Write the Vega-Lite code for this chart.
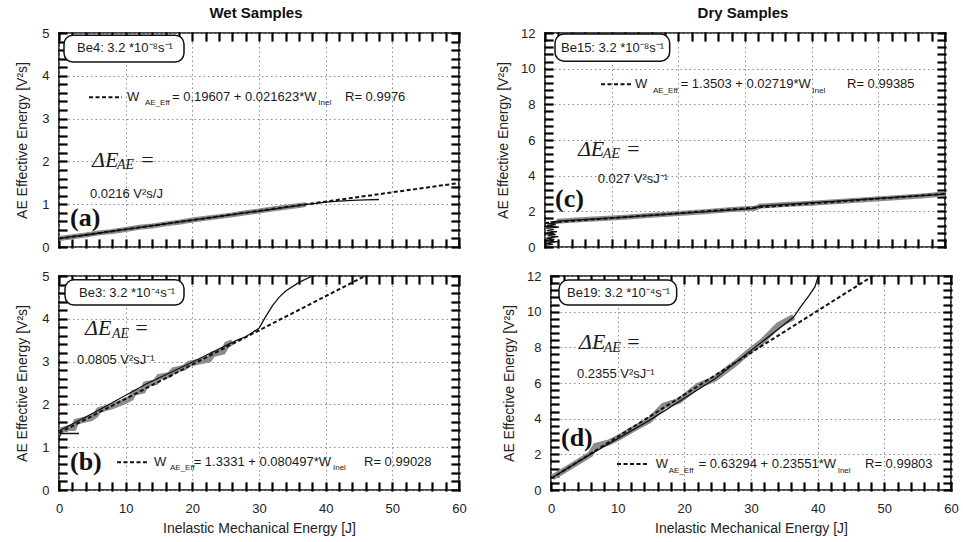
{
"$schema": "https://vega.github.io/schema/vega-lite/v6.json",
"padding": {"left": 14, "top": 5, "right": 4, "bottom": 4},
"background": "white",
"config": {
  "font": "Liberation Sans",
  "view": {"stroke": "#111", "strokeWidth": 1.6},
  "axis": {"labelFont": "Liberation Sans", "labelFontSize": 13, "labelColor": "#222", "titleFont": "Liberation Sans", "titleFontSize": 14, "titleFontWeight": "normal", "titleColor": "#222", "domain": false, "ticks": true, "tickColor": "black", "tickOpacity": 1, "tickWidth": 2.2, "tickSize": -7, "tickCap": "square", "tickRound": true, "gridColor": "#8f8f8f", "gridDash": [1.5, 3], "gridWidth": 1, "labelFlush": false, "labelOverlap": false, "zindex": 2},
  "title": {"font": "Liberation Sans", "fontSize": 15, "fontWeight": "bold", "color": "#111"}
},
"datasets": {
  "boxes": [
    {"p":"a","x":0.75,"x2":18.75,"y":4.32,"y2":4.95},
    {"p":"b","x":0.9,"x2":18.75,"y":4.32,"y2":4.91},
    {"p":"c","x":1.5,"x2":18.7,"y":10.42,"y2":11.94},
    {"p":"d","x":1.2,"x2":18.85,"y":10.37,"y2":11.77}
  ],
  "ann": [
    {"p":"a","k":"box","x":2.7,"y":4.64,"t":"Be4: 3.2 *10⁻⁸s⁻¹"},
    {"p":"a","k":"eq","x":10.2,"y":3.5,"t":"W"},
    {"p":"a","k":"sub","x":12.9,"y":3.36,"t":"AE_Eff"},
    {"p":"a","k":"eq","x":16.95,"y":3.5,"t":"= 0.19607 + 0.021623*W"},
    {"p":"a","k":"sub","x":38.9,"y":3.36,"t":"Inel"},
    {"p":"a","k":"eq","x":42.9,"y":3.5,"t":"R= 0.9976"},
    {"p":"a","k":"lab","x":4.65,"y":1.24,"t":"0.0216 V²s/J"},
    {"p":"a","k":"delta","x":4.95,"y":2.03,"t":"ΔE"},
    {"p":"a","k":"dsub","x":8.7,"y":1.92,"t":"AE"},
    {"p":"a","k":"delta","x":12.15,"y":2.03,"t":"="},
    {"p":"a","k":"let","x":1.65,"y":0.68,"t":"(a)"},

    {"p":"b","k":"box","x":3.0,"y":4.6,"t":"Be3: 3.2 *10⁻⁴s⁻¹"},
    {"p":"b","k":"delta","x":3.9,"y":3.78,"t":"ΔE"},
    {"p":"b","k":"dsub","x":7.95,"y":3.65,"t":"AE"},
    {"p":"b","k":"delta","x":11.25,"y":3.78,"t":"="},
    {"p":"b","k":"lab","x":2.7,"y":3.04,"t":"0.0805 V²sJ⁻¹"},
    {"p":"b","k":"let","x":1.65,"y":0.65,"t":"(b)"},
    {"p":"b","k":"eq","x":14.25,"y":0.65,"t":"W"},
    {"p":"b","k":"sub","x":16.65,"y":0.51,"t":"AE_Eff"},
    {"p":"b","k":"eq","x":20.2,"y":0.65,"t":"= 1.3331 + 0.080497*W"},
    {"p":"b","k":"sub","x":41.1,"y":0.51,"t":"Inel"},
    {"p":"b","k":"eq","x":45.75,"y":0.65,"t":"R= 0.99028"},

    {"p":"c","k":"box","x":2.4,"y":11.18,"t":"Be15: 3.2 *10⁻⁸s⁻¹"},
    {"p":"c","k":"eq","x":13.5,"y":9.13,"t":"W"},
    {"p":"c","k":"sub","x":16.2,"y":8.73,"t":"AE_Eff"},
    {"p":"c","k":"eq","x":20.35,"y":9.13,"t":"= 1.3503 + 0.02719*W"},
    {"p":"c","k":"sub","x":40.1,"y":8.73,"t":"Inel"},
    {"p":"c","k":"eq","x":45.3,"y":9.13,"t":"R= 0.99385"},
    {"p":"c","k":"lab","x":7.9,"y":3.83,"t":"0.027 V²sJ⁻¹"},
    {"p":"c","k":"delta","x":4.94,"y":5.52,"t":"ΔE"},
    {"p":"c","k":"dsub","x":8.68,"y":5.24,"t":"AE"},
    {"p":"c","k":"delta","x":12.1,"y":5.52,"t":"="},
    {"p":"c","k":"let","x":1.5,"y":2.7,"t":"(c)"},

    {"p":"d","k":"box","x":2.4,"y":11.07,"t":"Be19: 3.2 *10⁻⁴s⁻¹"},
    {"p":"d","k":"delta","x":4.2,"y":8.28,"t":"ΔE"},
    {"p":"d","k":"dsub","x":7.9,"y":7.95,"t":"AE"},
    {"p":"d","k":"delta","x":11.2,"y":8.28,"t":"="},
    {"p":"d","k":"lab","x":3.9,"y":6.53,"t":"0.2355 V²sJ⁻¹"},
    {"p":"d","k":"let","x":1.5,"y":2.93,"t":"(d)"},
    {"p":"d","k":"eq","x":15.7,"y":1.46,"t":"W"},
    {"p":"d","k":"sub","x":17.66,"y":1.06,"t":"AE_Eff"},
    {"p":"d","k":"eq","x":22.15,"y":1.46,"t":"= 0.63294 + 0.23551*W"},
    {"p":"d","k":"sub","x":43.0,"y":1.06,"t":"Inel"},
    {"p":"d","k":"eq","x":47.1,"y":1.46,"t":"R= 0.99803"}
  ],
  "lines": [
    {"p":"a","s":"fit","g":1,"i":0,"x":0,"y":0.196},
    {"p":"a","s":"fit","g":1,"i":1,"x":60,"y":1.494},
    {"p":"a","s":"fit","g":2,"i":0,"x":4.5,"y":3.5},
    {"p":"a","s":"fit","g":2,"i":1,"x":9.45,"y":3.5},
    {"p":"a","s":"gray","g":1,"i":0,"x":0,"y":0.20},
    {"p":"a","s":"gray","g":1,"i":1,"x":2,"y":0.24},
    {"p":"a","s":"gray","g":1,"i":2,"x":4,"y":0.28},
    {"p":"a","s":"gray","g":1,"i":3,"x":6,"y":0.33},
    {"p":"a","s":"gray","g":1,"i":4,"x":8,"y":0.36},
    {"p":"a","s":"gray","g":1,"i":5,"x":10,"y":0.41},
    {"p":"a","s":"gray","g":1,"i":6,"x":12,"y":0.46},
    {"p":"a","s":"gray","g":1,"i":7,"x":14,"y":0.49},
    {"p":"a","s":"gray","g":1,"i":8,"x":16,"y":0.54},
    {"p":"a","s":"gray","g":1,"i":9,"x":18,"y":0.58},
    {"p":"a","s":"gray","g":1,"i":10,"x":20,"y":0.63},
    {"p":"a","s":"gray","g":1,"i":11,"x":22,"y":0.67},
    {"p":"a","s":"gray","g":1,"i":12,"x":24,"y":0.71},
    {"p":"a","s":"gray","g":1,"i":13,"x":26,"y":0.75},
    {"p":"a","s":"gray","g":1,"i":14,"x":28,"y":0.80},
    {"p":"a","s":"gray","g":1,"i":15,"x":30,"y":0.84},
    {"p":"a","s":"gray","g":1,"i":16,"x":32,"y":0.89},
    {"p":"a","s":"gray","g":1,"i":17,"x":34,"y":0.93},
    {"p":"a","s":"gray","g":1,"i":18,"x":36,"y":0.97},
    {"p":"a","s":"gray","g":1,"i":19,"x":37,"y":0.99},
    {"p":"a","s":"raw","g":1,"i":0,"x":0,"y":0.20},
    {"p":"a","s":"raw","g":1,"i":1,"x":4,"y":0.28},
    {"p":"a","s":"raw","g":1,"i":2,"x":10,"y":0.41},
    {"p":"a","s":"raw","g":1,"i":3,"x":20,"y":0.63},
    {"p":"a","s":"raw","g":1,"i":4,"x":30,"y":0.84},
    {"p":"a","s":"raw","g":1,"i":5,"x":37,"y":0.99},
    {"p":"a","s":"raw","g":1,"i":6,"x":38,"y":1.01},
    {"p":"a","s":"raw","g":1,"i":7,"x":40,"y":1.05},
    {"p":"a","s":"raw","g":1,"i":8,"x":42,"y":1.07},
    {"p":"a","s":"raw","g":1,"i":9,"x":44,"y":1.09},
    {"p":"a","s":"raw","g":1,"i":10,"x":46,"y":1.10},
    {"p":"a","s":"raw","g":1,"i":11,"x":48,"y":1.11},

    {"p":"b","s":"fit","g":1,"i":0,"x":0,"y":1.333},
    {"p":"b","s":"fit","g":1,"i":1,"x":45.9,"y":5.0},
    {"p":"b","s":"fit","g":2,"i":0,"x":8.7,"y":0.65},
    {"p":"b","s":"fit","g":2,"i":1,"x":13.5,"y":0.65},
    {"p":"b","s":"gray","g":1,"i":0,"x":0,"y":1.38},
    {"p":"b","s":"gray","g":1,"i":1,"x":1.5,"y":1.45},
    {"p":"b","s":"gray","g":1,"i":2,"x":2.2,"y":1.45},
    {"p":"b","s":"gray","g":1,"i":3,"x":2.6,"y":1.6},
    {"p":"b","s":"gray","g":1,"i":4,"x":4.8,"y":1.68},
    {"p":"b","s":"gray","g":1,"i":5,"x":5.5,"y":1.75},
    {"p":"b","s":"gray","g":1,"i":6,"x":6,"y":1.87},
    {"p":"b","s":"gray","g":1,"i":7,"x":7.8,"y":1.95},
    {"p":"b","s":"gray","g":1,"i":8,"x":9.5,"y":2.05},
    {"p":"b","s":"gray","g":1,"i":9,"x":10.8,"y":2.15},
    {"p":"b","s":"gray","g":1,"i":10,"x":11.2,"y":2.27},
    {"p":"b","s":"gray","g":1,"i":11,"x":12.6,"y":2.32},
    {"p":"b","s":"gray","g":1,"i":12,"x":13,"y":2.47},
    {"p":"b","s":"gray","g":1,"i":13,"x":14.5,"y":2.52},
    {"p":"b","s":"gray","g":1,"i":14,"x":15,"y":2.64},
    {"p":"b","s":"gray","g":1,"i":15,"x":16.6,"y":2.69},
    {"p":"b","s":"gray","g":1,"i":16,"x":17.2,"y":2.8},
    {"p":"b","s":"gray","g":1,"i":17,"x":18.8,"y":2.86},
    {"p":"b","s":"gray","g":1,"i":18,"x":19.5,"y":2.95},
    {"p":"b","s":"gray","g":1,"i":19,"x":21,"y":3.0},
    {"p":"b","s":"gray","g":1,"i":20,"x":22.5,"y":3.05},
    {"p":"b","s":"gray","g":1,"i":21,"x":23,"y":3.17},
    {"p":"b","s":"gray","g":1,"i":22,"x":24.6,"y":3.23},
    {"p":"b","s":"gray","g":1,"i":23,"x":25.2,"y":3.4},
    {"p":"b","s":"gray","g":1,"i":24,"x":26,"y":3.45},
    {"p":"b","s":"raw","g":1,"i":0,"x":0,"y":1.22},
    {"p":"b","s":"raw","g":1,"i":1,"x":0.3,"y":1.32},
    {"p":"b","s":"raw","g":1,"i":2,"x":3,"y":1.32},
    {"p":"b","s":"raw","g":2,"i":0,"x":0,"y":1.38},
    {"p":"b","s":"raw","g":2,"i":1,"x":6,"y":1.87},
    {"p":"b","s":"raw","g":2,"i":2,"x":13,"y":2.47},
    {"p":"b","s":"raw","g":2,"i":3,"x":19.5,"y":2.95},
    {"p":"b","s":"raw","g":2,"i":4,"x":26,"y":3.45},
    {"p":"b","s":"raw","g":2,"i":5,"x":27,"y":3.52},
    {"p":"b","s":"raw","g":2,"i":6,"x":28,"y":3.58},
    {"p":"b","s":"raw","g":2,"i":7,"x":29,"y":3.68},
    {"p":"b","s":"raw","g":2,"i":8,"x":30,"y":3.78},
    {"p":"b","s":"raw","g":2,"i":9,"x":31,"y":4.05},
    {"p":"b","s":"raw","g":2,"i":10,"x":32,"y":4.3},
    {"p":"b","s":"raw","g":2,"i":11,"x":33,"y":4.5},
    {"p":"b","s":"raw","g":2,"i":12,"x":34,"y":4.65},
    {"p":"b","s":"raw","g":2,"i":13,"x":36,"y":4.85},
    {"p":"b","s":"raw","g":2,"i":14,"x":38,"y":5.0},

    {"p":"c","s":"fit","g":1,"i":0,"x":0,"y":1.35},
    {"p":"c","s":"fit","g":1,"i":1,"x":60,"y":2.982},
    {"p":"c","s":"fit","g":2,"i":0,"x":8.4,"y":9.13},
    {"p":"c","s":"fit","g":2,"i":1,"x":13.2,"y":9.13},
    {"p":"c","s":"gray","g":1,"i":0,"x":1.8,"y":1.45},
    {"p":"c","s":"gray","g":1,"i":1,"x":4,"y":1.5},
    {"p":"c","s":"gray","g":1,"i":2,"x":8,"y":1.58},
    {"p":"c","s":"gray","g":1,"i":3,"x":12,"y":1.67},
    {"p":"c","s":"gray","g":1,"i":4,"x":16,"y":1.78},
    {"p":"c","s":"gray","g":1,"i":5,"x":20,"y":1.88},
    {"p":"c","s":"gray","g":1,"i":6,"x":24,"y":1.98},
    {"p":"c","s":"gray","g":1,"i":7,"x":28,"y":2.1},
    {"p":"c","s":"gray","g":1,"i":8,"x":31.5,"y":2.17},
    {"p":"c","s":"gray","g":1,"i":9,"x":32.3,"y":2.3},
    {"p":"c","s":"gray","g":1,"i":10,"x":36,"y":2.38},
    {"p":"c","s":"gray","g":1,"i":11,"x":40,"y":2.46},
    {"p":"c","s":"gray","g":1,"i":12,"x":44,"y":2.55},
    {"p":"c","s":"gray","g":1,"i":13,"x":48,"y":2.65},
    {"p":"c","s":"gray","g":1,"i":14,"x":52,"y":2.75},
    {"p":"c","s":"gray","g":1,"i":15,"x":56,"y":2.85},
    {"p":"c","s":"gray","g":1,"i":16,"x":60,"y":2.97},
    {"p":"c","s":"raw","g":1,"i":0,"x":0.1,"y":0.1},
    {"p":"c","s":"raw","g":1,"i":1,"x":1.2,"y":0.15},
    {"p":"c","s":"raw","g":1,"i":2,"x":0.2,"y":0.22},
    {"p":"c","s":"raw","g":1,"i":3,"x":1.9,"y":0.3},
    {"p":"c","s":"raw","g":1,"i":4,"x":0.3,"y":0.36},
    {"p":"c","s":"raw","g":1,"i":5,"x":1.4,"y":0.42},
    {"p":"c","s":"raw","g":1,"i":6,"x":0.2,"y":0.5},
    {"p":"c","s":"raw","g":1,"i":7,"x":2.0,"y":0.58},
    {"p":"c","s":"raw","g":1,"i":8,"x":0.4,"y":0.64},
    {"p":"c","s":"raw","g":1,"i":9,"x":1.6,"y":0.7},
    {"p":"c","s":"raw","g":1,"i":10,"x":0.2,"y":0.78},
    {"p":"c","s":"raw","g":1,"i":11,"x":1.8,"y":0.86},
    {"p":"c","s":"raw","g":1,"i":12,"x":0.3,"y":0.92},
    {"p":"c","s":"raw","g":1,"i":13,"x":1.3,"y":0.98},
    {"p":"c","s":"raw","g":1,"i":14,"x":0.2,"y":1.05},
    {"p":"c","s":"raw","g":1,"i":15,"x":2.1,"y":1.12},
    {"p":"c","s":"raw","g":1,"i":16,"x":0.4,"y":1.18},
    {"p":"c","s":"raw","g":1,"i":17,"x":1.6,"y":1.25},
    {"p":"c","s":"raw","g":1,"i":18,"x":0.3,"y":1.3},
    {"p":"c","s":"raw","g":1,"i":19,"x":1.9,"y":1.36},
    {"p":"c","s":"raw","g":1,"i":20,"x":0.8,"y":1.4},
    {"p":"c","s":"raw","g":1,"i":21,"x":1.8,"y":1.45},
    {"p":"c","s":"raw","g":1,"i":22,"x":12,"y":1.67},
    {"p":"c","s":"raw","g":1,"i":23,"x":31.5,"y":2.17},
    {"p":"c","s":"raw","g":1,"i":24,"x":32.3,"y":2.3},
    {"p":"c","s":"raw","g":1,"i":25,"x":60,"y":2.97},

    {"p":"d","s":"fit","g":1,"i":0,"x":0,"y":0.633},
    {"p":"d","s":"fit","g":1,"i":1,"x":48.27,"y":12},
    {"p":"d","s":"fit","g":2,"i":0,"x":9.9,"y":1.46},
    {"p":"d","s":"fit","g":2,"i":1,"x":14.7,"y":1.46},
    {"p":"d","s":"gray","g":1,"i":0,"x":0.2,"y":0.7},
    {"p":"d","s":"gray","g":1,"i":1,"x":2.7,"y":1.26},
    {"p":"d","s":"gray","g":1,"i":2,"x":5.9,"y":2.0},
    {"p":"d","s":"gray","g":1,"i":3,"x":6.7,"y":2.48},
    {"p":"d","s":"gray","g":1,"i":4,"x":8.7,"y":2.67},
    {"p":"d","s":"gray","g":1,"i":5,"x":10.2,"y":2.95},
    {"p":"d","s":"gray","g":1,"i":6,"x":12.7,"y":3.5},
    {"p":"d","s":"gray","g":1,"i":7,"x":14.7,"y":3.89},
    {"p":"d","s":"gray","g":1,"i":8,"x":16.9,"y":4.73},
    {"p":"d","s":"gray","g":1,"i":9,"x":19.2,"y":5.0},
    {"p":"d","s":"gray","g":1,"i":10,"x":22.1,"y":5.86},
    {"p":"d","s":"gray","g":1,"i":11,"x":24.6,"y":6.24},
    {"p":"d","s":"gray","g":1,"i":12,"x":27.6,"y":7.08},
    {"p":"d","s":"gray","g":1,"i":13,"x":29.6,"y":7.74},
    {"p":"d","s":"gray","g":1,"i":14,"x":31.6,"y":8.3},
    {"p":"d","s":"gray","g":1,"i":15,"x":34.1,"y":9.24},
    {"p":"d","s":"gray","g":1,"i":16,"x":36.4,"y":9.7},
    {"p":"d","s":"raw","g":1,"i":0,"x":0.2,"y":0.7},
    {"p":"d","s":"raw","g":1,"i":1,"x":5.9,"y":2.0},
    {"p":"d","s":"raw","g":1,"i":2,"x":14.7,"y":3.89},
    {"p":"d","s":"raw","g":1,"i":3,"x":24.6,"y":6.24},
    {"p":"d","s":"raw","g":1,"i":4,"x":36.4,"y":9.7},
    {"p":"d","s":"raw","g":1,"i":5,"x":37.5,"y":10.3},
    {"p":"d","s":"raw","g":1,"i":6,"x":38.7,"y":10.9},
    {"p":"d","s":"raw","g":1,"i":7,"x":39.6,"y":11.4},
    {"p":"d","s":"raw","g":1,"i":8,"x":40.1,"y":12}
  ]
},
"spacing": 14,
"vconcat": [
 {"spacing": 33, "hconcat": [
  {
   "width": 400, "height": 214,
   "title": {"text": "Wet Samples", "offset": 6, "dx": -3},
   "resolve": {"axis": {"x": "independent", "y": "independent"}},
   "layer": [
    {
     "encoding": {
      "x": {"field": "x", "type": "quantitative", "scale": {"domain": [0, 60], "nice": false, "zero": false},
        "axis": {"orient": "bottom", "values": [0,2,4,6,8,10,12,14,16,18,20,22,24,26,28,30,32,34,36,38,40,42,44,46,48,50,52,54,56,58,60], "labels": false, "title": null,
          "grid": true, "gridOpacity": {"condition": {"test": "datum.value % 10 == 0", "value": 1}, "value": 0}}},
      "y": {"field": "y", "type": "quantitative", "scale": {"domain": [0, 5], "nice": false, "zero": false},
        "axis": {"orient": "left", "values": [0,0.2,0.4,0.6,0.8,1,1.2,1.4,1.6,1.8,2,2.2,2.4,2.6,2.8,3,3.2,3.4,3.6,3.8,4,4.2,4.4,4.6,4.8,5],
          "labelExpr": "abs(datum.value - round(datum.value)) < 0.001 ? format(datum.value, 'd') : ''", "labelPadding": 17,
          "grid": true, "gridOpacity": {"condition": {"test": "abs(datum.value - round(datum.value)) < 0.001", "value": 1}, "value": 0},
          "title": "AE Effective Energy [V²s]", "titlePadding": 12}}
     },
     "layer": [
      {"data": {"name": "boxes"}, "transform": [{"filter": "datum.p == 'a'"}], "mark": {"type": "rect", "cornerRadius": 9, "fill": "white", "stroke": "#111", "strokeWidth": 1.5}, "encoding": {"x2": {"field": "x2"}, "y2": {"field": "y2"}}},
      {"data": {"name": "lines"}, "transform": [{"filter": "datum.p == 'a' && datum.s == 'gray'"}], "mark": {"type": "line", "color": "#8c8c8c", "strokeWidth": 5, "clip": true}, "encoding": {"order": {"field": "i"}}},
      {"data": {"name": "lines"}, "transform": [{"filter": "datum.p == 'a' && datum.s == 'raw'"}], "mark": {"type": "line", "color": "#111", "strokeWidth": 1.3, "clip": true}, "encoding": {"order": {"field": "i"}, "detail": {"field": "g"}}},
      {"data": {"name": "lines"}, "transform": [{"filter": "datum.p == 'a' && datum.s == 'fit'"}], "mark": {"type": "line", "color": "#111", "strokeWidth": 2, "strokeDash": [4, 2.5], "clip": true}, "encoding": {"order": {"field": "i"}, "detail": {"field": "g"}}},
      {"data": {"name": "ann"}, "transform": [{"filter": "datum.p == 'a' && indexof(['eq','box','lab'], datum.k) >= 0"}], "mark": {"type": "text", "align": "left", "baseline": "middle", "font": "Liberation Sans", "fontSize": 13, "fill": "#1a1a1a"}, "encoding": {"text": {"field": "t"}}},
      {"data": {"name": "ann"}, "transform": [{"filter": "datum.p == 'a' && datum.k == 'sub'"}], "mark": {"type": "text", "align": "left", "baseline": "middle", "font": "Liberation Sans", "fontSize": 8, "fill": "#1a1a1a"}, "encoding": {"text": {"field": "t"}}},
      {"data": {"name": "ann"}, "transform": [{"filter": "datum.p == 'a' && datum.k == 'delta'"}], "mark": {"type": "text", "align": "left", "baseline": "middle", "font": "Liberation Serif", "fontStyle": "italic", "fontSize": 22, "fill": "#1a1a1a"}, "encoding": {"text": {"field": "t"}}},
      {"data": {"name": "ann"}, "transform": [{"filter": "datum.p == 'a' && datum.k == 'dsub'"}], "mark": {"type": "text", "align": "left", "baseline": "middle", "font": "Liberation Serif", "fontStyle": "italic", "fontSize": 14, "fill": "#1a1a1a"}, "encoding": {"text": {"field": "t"}}},
      {"data": {"name": "ann"}, "transform": [{"filter": "datum.p == 'a' && datum.k == 'let'"}], "mark": {"type": "text", "align": "left", "baseline": "middle", "font": "Liberation Serif", "fontWeight": "bold", "fontSize": 26, "fill": "#111"}, "encoding": {"text": {"field": "t"}}}
     ]
    },
    {"data": {"values": [{"x": 0, "y": 0}]}, "mark": {"type": "point", "opacity": 0},
     "encoding": {
      "x": {"field": "x", "type": "quantitative", "scale": {"domain": [0, 60], "nice": false, "zero": false},
        "axis": {"orient": "top", "values": [0,2,4,6,8,10,12,14,16,18,20,22,24,26,28,30,32,34,36,38,40,42,44,46,48,50,52,54,56,58,60], "labels": false, "title": null, "grid": false}},
      "y": {"field": "y", "type": "quantitative", "scale": {"domain": [0, 5], "nice": false, "zero": false},
        "axis": {"orient": "right", "values": [0,0.2,0.4,0.6,0.8,1,1.2,1.4,1.6,1.8,2,2.2,2.4,2.6,2.8,3,3.2,3.4,3.6,3.8,4,4.2,4.4,4.6,4.8,5], "labels": false, "title": null, "grid": false}}
     }}
   ]
  },
  {
   "width": 400, "height": 214,
   "title": {"text": "Dry Samples", "offset": 6, "dx": -2},
   "resolve": {"axis": {"x": "independent", "y": "independent"}},
   "layer": [
    {
     "encoding": {
      "x": {"field": "x", "type": "quantitative", "scale": {"domain": [0, 60], "nice": false, "zero": false},
        "axis": {"orient": "bottom", "values": [0,2,4,6,8,10,12,14,16,18,20,22,24,26,28,30,32,34,36,38,40,42,44,46,48,50,52,54,56,58,60], "labels": false, "title": null,
          "grid": true, "gridOpacity": {"condition": {"test": "datum.value % 10 == 0", "value": 1}, "value": 0}}},
      "y": {"field": "y", "type": "quantitative", "scale": {"domain": [0, 12], "nice": false, "zero": false},
        "axis": {"orient": "left", "values": [0,0.4,0.8,1.2,1.6,2,2.4,2.8,3.2,3.6,4,4.4,4.8,5.2,5.6,6,6.4,6.8,7.2,7.6,8,8.4,8.8,9.2,9.6,10,10.4,10.8,11.2,11.6,12],
          "labelExpr": "datum.value % 2 == 0 ? format(datum.value, 'd') : ''", "labelPadding": 17,
          "grid": true, "gridOpacity": {"condition": {"test": "datum.value % 2 == 0", "value": 1}, "value": 0},
          "title": "AE Effective Energy [V²s]", "titlePadding": 10}}
     },
     "layer": [
      {"data": {"name": "boxes"}, "transform": [{"filter": "datum.p == 'c'"}], "mark": {"type": "rect", "cornerRadius": 9, "fill": "white", "stroke": "#111", "strokeWidth": 1.5}, "encoding": {"x2": {"field": "x2"}, "y2": {"field": "y2"}}},
      {"data": {"name": "lines"}, "transform": [{"filter": "datum.p == 'c' && datum.s == 'gray'"}], "mark": {"type": "line", "color": "#8c8c8c", "strokeWidth": 5, "clip": true}, "encoding": {"order": {"field": "i"}}},
      {"data": {"name": "lines"}, "transform": [{"filter": "datum.p == 'c' && datum.s == 'raw'"}], "mark": {"type": "line", "color": "#111", "strokeWidth": 1.3, "clip": true}, "encoding": {"order": {"field": "i"}, "detail": {"field": "g"}}},
      {"data": {"name": "lines"}, "transform": [{"filter": "datum.p == 'c' && datum.s == 'fit'"}], "mark": {"type": "line", "color": "#111", "strokeWidth": 2, "strokeDash": [4, 2.5], "clip": true}, "encoding": {"order": {"field": "i"}, "detail": {"field": "g"}}},
      {"data": {"name": "ann"}, "transform": [{"filter": "datum.p == 'c' && indexof(['eq','box','lab'], datum.k) >= 0"}], "mark": {"type": "text", "align": "left", "baseline": "middle", "font": "Liberation Sans", "fontSize": 13, "fill": "#1a1a1a"}, "encoding": {"text": {"field": "t"}}},
      {"data": {"name": "ann"}, "transform": [{"filter": "datum.p == 'c' && datum.k == 'sub'"}], "mark": {"type": "text", "align": "left", "baseline": "middle", "font": "Liberation Sans", "fontSize": 8, "fill": "#1a1a1a"}, "encoding": {"text": {"field": "t"}}},
      {"data": {"name": "ann"}, "transform": [{"filter": "datum.p == 'c' && datum.k == 'delta'"}], "mark": {"type": "text", "align": "left", "baseline": "middle", "font": "Liberation Serif", "fontStyle": "italic", "fontSize": 22, "fill": "#1a1a1a"}, "encoding": {"text": {"field": "t"}}},
      {"data": {"name": "ann"}, "transform": [{"filter": "datum.p == 'c' && datum.k == 'dsub'"}], "mark": {"type": "text", "align": "left", "baseline": "middle", "font": "Liberation Serif", "fontStyle": "italic", "fontSize": 14, "fill": "#1a1a1a"}, "encoding": {"text": {"field": "t"}}},
      {"data": {"name": "ann"}, "transform": [{"filter": "datum.p == 'c' && datum.k == 'let'"}], "mark": {"type": "text", "align": "left", "baseline": "middle", "font": "Liberation Serif", "fontWeight": "bold", "fontSize": 26, "fill": "#111"}, "encoding": {"text": {"field": "t"}}}
     ]
    },
    {"data": {"values": [{"x": 0, "y": 0}]}, "mark": {"type": "point", "opacity": 0},
     "encoding": {
      "x": {"field": "x", "type": "quantitative", "scale": {"domain": [0, 60], "nice": false, "zero": false},
        "axis": {"orient": "top", "values": [0,2,4,6,8,10,12,14,16,18,20,22,24,26,28,30,32,34,36,38,40,42,44,46,48,50,52,54,56,58,60], "labels": false, "title": null, "grid": false}},
      "y": {"field": "y", "type": "quantitative", "scale": {"domain": [0, 12], "nice": false, "zero": false},
        "axis": {"orient": "right", "values": [0,0.4,0.8,1.2,1.6,2,2.4,2.8,3.2,3.6,4,4.4,4.8,5.2,5.6,6,6.4,6.8,7.2,7.6,8,8.4,8.8,9.2,9.6,10,10.4,10.8,11.2,11.6,12], "labels": false, "title": null, "grid": false}}
     }}
   ]
  }
 ]},
 {"spacing": 33, "hconcat": [
  {
   "width": 400, "height": 214,
   "resolve": {"axis": {"x": "independent", "y": "independent"}},
   "layer": [
    {
     "encoding": {
      "x": {"field": "x", "type": "quantitative", "scale": {"domain": [0, 60], "nice": false, "zero": false},
        "axis": {"orient": "bottom", "values": [0,2,4,6,8,10,12,14,16,18,20,22,24,26,28,30,32,34,36,38,40,42,44,46,48,50,52,54,56,58,60],
          "labelExpr": "datum.value % 10 == 0 ? format(datum.value, 'd') : ''", "labelPadding": 19,
          "title": "Inelastic Mechanical Energy [J]", "titlePadding": 6,
          "grid": true, "gridOpacity": {"condition": {"test": "datum.value % 10 == 0", "value": 1}, "value": 0}}},
      "y": {"field": "y", "type": "quantitative", "scale": {"domain": [0, 5], "nice": false, "zero": false},
        "axis": {"orient": "left", "values": [0,0.2,0.4,0.6,0.8,1,1.2,1.4,1.6,1.8,2,2.2,2.4,2.6,2.8,3,3.2,3.4,3.6,3.8,4,4.2,4.4,4.6,4.8,5],
          "labelExpr": "abs(datum.value - round(datum.value)) < 0.001 ? format(datum.value, 'd') : ''", "labelPadding": 17,
          "grid": true, "gridOpacity": {"condition": {"test": "abs(datum.value - round(datum.value)) < 0.001", "value": 1}, "value": 0},
          "title": "AE Effective Energy [V²s]", "titlePadding": 12}}
     },
     "layer": [
      {"data": {"name": "boxes"}, "transform": [{"filter": "datum.p == 'b'"}], "mark": {"type": "rect", "cornerRadius": 9, "fill": "white", "stroke": "#111", "strokeWidth": 1.5}, "encoding": {"x2": {"field": "x2"}, "y2": {"field": "y2"}}},
      {"data": {"name": "lines"}, "transform": [{"filter": "datum.p == 'b' && datum.s == 'gray'"}], "mark": {"type": "line", "color": "#8c8c8c", "strokeWidth": 6, "clip": true}, "encoding": {"order": {"field": "i"}}},
      {"data": {"name": "lines"}, "transform": [{"filter": "datum.p == 'b' && datum.s == 'raw'"}], "mark": {"type": "line", "color": "#111", "strokeWidth": 1.3, "clip": true}, "encoding": {"order": {"field": "i"}, "detail": {"field": "g"}}},
      {"data": {"name": "lines"}, "transform": [{"filter": "datum.p == 'b' && datum.s == 'fit'"}], "mark": {"type": "line", "color": "#111", "strokeWidth": 2, "strokeDash": [4, 2.5], "clip": true}, "encoding": {"order": {"field": "i"}, "detail": {"field": "g"}}},
      {"data": {"name": "ann"}, "transform": [{"filter": "datum.p == 'b' && indexof(['eq','box','lab'], datum.k) >= 0"}], "mark": {"type": "text", "align": "left", "baseline": "middle", "font": "Liberation Sans", "fontSize": 13, "fill": "#1a1a1a"}, "encoding": {"text": {"field": "t"}}},
      {"data": {"name": "ann"}, "transform": [{"filter": "datum.p == 'b' && datum.k == 'sub'"}], "mark": {"type": "text", "align": "left", "baseline": "middle", "font": "Liberation Sans", "fontSize": 8, "fill": "#1a1a1a"}, "encoding": {"text": {"field": "t"}}},
      {"data": {"name": "ann"}, "transform": [{"filter": "datum.p == 'b' && datum.k == 'delta'"}], "mark": {"type": "text", "align": "left", "baseline": "middle", "font": "Liberation Serif", "fontStyle": "italic", "fontSize": 22, "fill": "#1a1a1a"}, "encoding": {"text": {"field": "t"}}},
      {"data": {"name": "ann"}, "transform": [{"filter": "datum.p == 'b' && datum.k == 'dsub'"}], "mark": {"type": "text", "align": "left", "baseline": "middle", "font": "Liberation Serif", "fontStyle": "italic", "fontSize": 14, "fill": "#1a1a1a"}, "encoding": {"text": {"field": "t"}}},
      {"data": {"name": "ann"}, "transform": [{"filter": "datum.p == 'b' && datum.k == 'let'"}], "mark": {"type": "text", "align": "left", "baseline": "middle", "font": "Liberation Serif", "fontWeight": "bold", "fontSize": 26, "fill": "#111"}, "encoding": {"text": {"field": "t"}}}
     ]
    },
    {"data": {"values": [{"x": 0, "y": 0}]}, "mark": {"type": "point", "opacity": 0},
     "encoding": {
      "x": {"field": "x", "type": "quantitative", "scale": {"domain": [0, 60], "nice": false, "zero": false},
        "axis": {"orient": "top", "values": [0,2,4,6,8,10,12,14,16,18,20,22,24,26,28,30,32,34,36,38,40,42,44,46,48,50,52,54,56,58,60], "labels": false, "title": null, "grid": false}},
      "y": {"field": "y", "type": "quantitative", "scale": {"domain": [0, 5], "nice": false, "zero": false},
        "axis": {"orient": "right", "values": [0,0.2,0.4,0.6,0.8,1,1.2,1.4,1.6,1.8,2,2.2,2.4,2.6,2.8,3,3.2,3.4,3.6,3.8,4,4.2,4.4,4.6,4.8,5], "labels": false, "title": null, "grid": false}}
     }}
   ]
  },
  {
   "width": 400, "height": 214,
   "resolve": {"axis": {"x": "independent", "y": "independent"}},
   "layer": [
    {
     "encoding": {
      "x": {"field": "x", "type": "quantitative", "scale": {"domain": [0, 60], "nice": false, "zero": false},
        "axis": {"orient": "bottom", "values": [0,2,4,6,8,10,12,14,16,18,20,22,24,26,28,30,32,34,36,38,40,42,44,46,48,50,52,54,56,58,60],
          "labelExpr": "datum.value % 10 == 0 ? format(datum.value, 'd') : ''", "labelPadding": 19,
          "title": "Inelastic Mechanical Energy [J]", "titlePadding": 6,
          "grid": true, "gridOpacity": {"condition": {"test": "datum.value % 10 == 0", "value": 1}, "value": 0}}},
      "y": {"field": "y", "type": "quantitative", "scale": {"domain": [0, 12], "nice": false, "zero": false},
        "axis": {"orient": "left", "values": [0,0.4,0.8,1.2,1.6,2,2.4,2.8,3.2,3.6,4,4.4,4.8,5.2,5.6,6,6.4,6.8,7.2,7.6,8,8.4,8.8,9.2,9.6,10,10.4,10.8,11.2,11.6,12],
          "labelExpr": "datum.value % 2 == 0 ? format(datum.value, 'd') : ''", "labelPadding": 17,
          "grid": true, "gridOpacity": {"condition": {"test": "datum.value % 2 == 0", "value": 1}, "value": 0},
          "title": "AE Effective Energy [V²s]", "titlePadding": 10}}
     },
     "layer": [
      {"data": {"name": "boxes"}, "transform": [{"filter": "datum.p == 'd'"}], "mark": {"type": "rect", "cornerRadius": 9, "fill": "white", "stroke": "#111", "strokeWidth": 1.5}, "encoding": {"x2": {"field": "x2"}, "y2": {"field": "y2"}}},
      {"data": {"name": "lines"}, "transform": [{"filter": "datum.p == 'd' && datum.s == 'gray'"}], "mark": {"type": "line", "color": "#8c8c8c", "strokeWidth": 6, "clip": true}, "encoding": {"order": {"field": "i"}}},
      {"data": {"name": "lines"}, "transform": [{"filter": "datum.p == 'd' && datum.s == 'raw'"}], "mark": {"type": "line", "color": "#111", "strokeWidth": 1.3, "clip": true}, "encoding": {"order": {"field": "i"}, "detail": {"field": "g"}}},
      {"data": {"name": "lines"}, "transform": [{"filter": "datum.p == 'd' && datum.s == 'fit'"}], "mark": {"type": "line", "color": "#111", "strokeWidth": 2, "strokeDash": [4, 2.5], "clip": true}, "encoding": {"order": {"field": "i"}, "detail": {"field": "g"}}},
      {"data": {"name": "ann"}, "transform": [{"filter": "datum.p == 'd' && indexof(['eq','box','lab'], datum.k) >= 0"}], "mark": {"type": "text", "align": "left", "baseline": "middle", "font": "Liberation Sans", "fontSize": 13, "fill": "#1a1a1a"}, "encoding": {"text": {"field": "t"}}},
      {"data": {"name": "ann"}, "transform": [{"filter": "datum.p == 'd' && datum.k == 'sub'"}], "mark": {"type": "text", "align": "left", "baseline": "middle", "font": "Liberation Sans", "fontSize": 8, "fill": "#1a1a1a"}, "encoding": {"text": {"field": "t"}}},
      {"data": {"name": "ann"}, "transform": [{"filter": "datum.p == 'd' && datum.k == 'delta'"}], "mark": {"type": "text", "align": "left", "baseline": "middle", "font": "Liberation Serif", "fontStyle": "italic", "fontSize": 22, "fill": "#1a1a1a"}, "encoding": {"text": {"field": "t"}}},
      {"data": {"name": "ann"}, "transform": [{"filter": "datum.p == 'd' && datum.k == 'dsub'"}], "mark": {"type": "text", "align": "left", "baseline": "middle", "font": "Liberation Serif", "fontStyle": "italic", "fontSize": 14, "fill": "#1a1a1a"}, "encoding": {"text": {"field": "t"}}},
      {"data": {"name": "ann"}, "transform": [{"filter": "datum.p == 'd' && datum.k == 'let'"}], "mark": {"type": "text", "align": "left", "baseline": "middle", "font": "Liberation Serif", "fontWeight": "bold", "fontSize": 26, "fill": "#111"}, "encoding": {"text": {"field": "t"}}}
     ]
    },
    {"data": {"values": [{"x": 0, "y": 0}]}, "mark": {"type": "point", "opacity": 0},
     "encoding": {
      "x": {"field": "x", "type": "quantitative", "scale": {"domain": [0, 60], "nice": false, "zero": false},
        "axis": {"orient": "top", "values": [0,2,4,6,8,10,12,14,16,18,20,22,24,26,28,30,32,34,36,38,40,42,44,46,48,50,52,54,56,58,60], "labels": false, "title": null, "grid": false}},
      "y": {"field": "y", "type": "quantitative", "scale": {"domain": [0, 12], "nice": false, "zero": false},
        "axis": {"orient": "right", "values": [0,0.4,0.8,1.2,1.6,2,2.4,2.8,3.2,3.6,4,4.4,4.8,5.2,5.6,6,6.4,6.8,7.2,7.6,8,8.4,8.8,9.2,9.6,10,10.4,10.8,11.2,11.6,12], "labels": false, "title": null, "grid": false}}
     }}
   ]
  }
 ]}
]
}
